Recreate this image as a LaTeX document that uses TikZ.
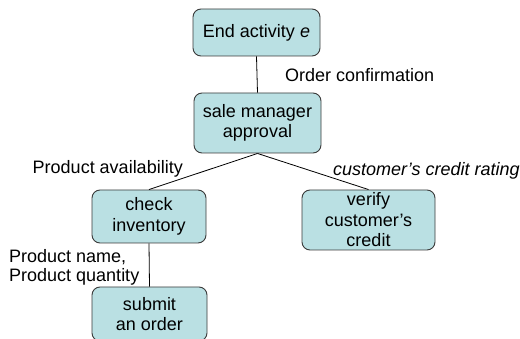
\documentclass[tikz,border=0pt]{standalone}
\usepackage{fontspec}
\setmainfont{Liberation Sans}

\begin{document}
\begin{tikzpicture}[x=1pt, y=-1pt]
    % Define colours
    \definecolor{borderColour}{HTML}{3A3A3A}
    \definecolor{fillColour}{HTML}{BAE0E3}

    % Define styles
    \tikzset{
        actBox/.style={draw=borderColour, fill=fillColour, rounded corners=8pt,
            align=center, inner sep=0pt, line width=0.9pt,
            font=\fontsize{18}{20.5}\selectfont},
        flowLabel/.style={inner sep=0pt, font=\fontsize{18}{19.5}\selectfont},
        flowLine/.style={draw=black, line width=0.8pt}
    }

    % Fix the page size
    \useasboundingbox (0,0) rectangle (520,339);

    % Draw the activity boxes
    \node[actBox, minimum width=127pt, minimum height=47pt] (endAct) at (256.5,32.5) {End activity \textit{e}};
    \node[actBox, minimum width=127pt, minimum height=60pt] (saleMgr) at (257.5,123) {sale manager\\approval};
    \node[actBox, minimum width=114pt, minimum height=53pt] (checkInv) at (149,216.5) {check\\inventory};
    \node[actBox, minimum width=133pt, minimum height=60pt] (verifyCred) at (368.5,220) {verify\\customer’s\\credit};
    \node[actBox, minimum width=115pt, minimum height=54pt] (submitOrd) at (149.5,314) {submit\\an order};

    % Draw the connecting lines
    \draw[flowLine] (endAct.south) -- (saleMgr.north);
    \draw[flowLine] (saleMgr.south) -- (checkInv.north);
    \draw[flowLine] (saleMgr.south) -- (verifyCred.north);
    \draw[flowLine] (checkInv.south) -- (submitOrd.north);

    % Label the data passed along each line
    \node[flowLabel, anchor=west] (orderConf) at (285,75) {Order confirmation};
    \node[flowLabel, anchor=east] (prodAvail) at (183,169) {Product availability};
    \node[flowLabel, anchor=west] (creditRating) at (333,171) {\textit{customer’s credit rating}};
    \node[flowLabel, anchor=west, align=left] (prodName) at (9,267.5) {Product name,\\Product quantity};

\end{tikzpicture}
\end{document}
